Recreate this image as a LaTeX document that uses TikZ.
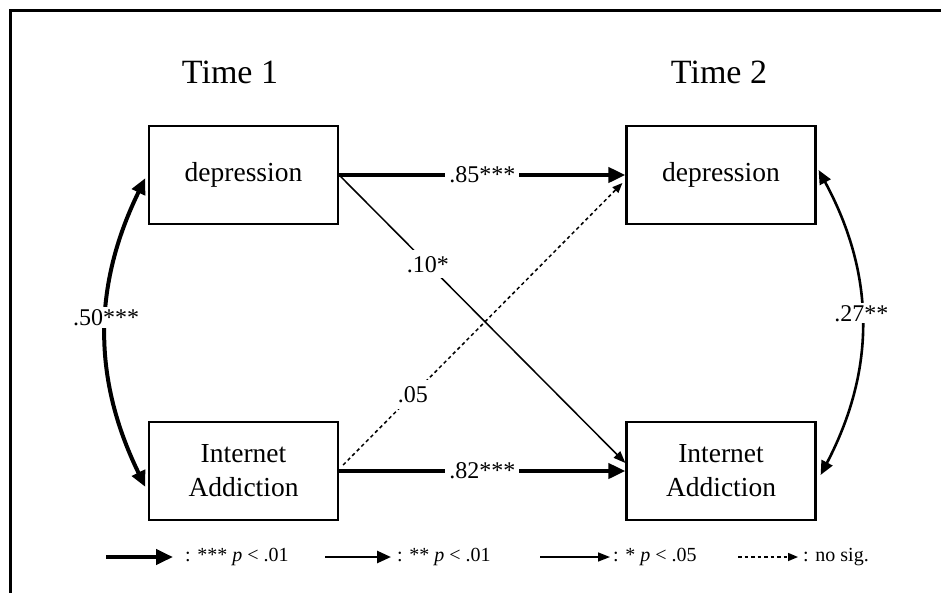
\documentclass[tikz,border=0pt]{standalone}
\usepackage{fontspec}
\setmainfont{Liberation Serif}
\usetikzlibrary{arrows.meta,calc}
\begin{document}
\begin{tikzpicture}[x=1pt,y=-1pt,
  box/.style={draw, line width=2.2pt, minimum width=189pt, minimum height=98pt,
    align=center, inner sep=0pt, font=\fontsize{27.5}{34}\selectfont},
  timelabel/.style={anchor=base, font=\fontsize{34}{40}\selectfont},
  coef/.style={fill=white, inner sep=4pt, font=\fontsize{24}{28}\selectfont},
  legtext/.style={anchor=west, inner sep=0pt, font=\fontsize{20}{24}\selectfont},
  sig3/.style={line width=4pt, -{Triangle[length=17pt,width=15pt]}},
  sig2/.style={line width=2.6pt, -{Triangle[length=14pt,width=12pt]}},
  sig1/.style={line width=1.5pt, -{Triangle[length=12pt,width=9pt]}},
  nosig/.style={line width=1.5pt, dash pattern=on 3.5pt off 3pt, -{Triangle[length=10pt,width=8pt]}},
  cov3/.style={line width=4pt, {Triangle[length=16pt,width=14pt]}-{Triangle[length=16pt,width=14pt]}},
  cov2/.style={line width=2.6pt, {Triangle[length=14pt,width=12pt]}-{Triangle[length=14pt,width=12pt]}}
]
\useasboundingbox (0,0) rectangle (941,592);

% outer frame (left and top edges)
\draw[line width=3pt, line join=miter] (10,600) -- (10,10) -- (950,10);

% column headings
\node[timelabel] (t1) at (230,83) {Time 1};
\node[timelabel] (t2) at (719,83) {Time 2};

% variables
\node[box] (dep1) at (243.5,175) {depression};
\node[box] (ia1)  at (243.5,471) {Internet\\Addiction};
\node[box] (dep2) at (721,175)   {depression};
\node[box] (ia2)  at (721,471)   {Internet\\Addiction};

% stability paths
\draw[sig3] (dep1.east) -- node[coef] {.85***} (dep2.west);
\draw[sig3] (ia1.east)  -- node[coef] {.82***} (ia2.west);

% cross-lagged paths
\coordinate (ia2in)   at ($(ia2.west)+(0,-8)$);
\coordinate (ia1out)  at ($(ia1.east)+(4,-6)$);
\coordinate (dep2in)  at ($(dep2.west)+(-3,8)$);
\draw[sig1] (dep1.east) -- node[coef, pos=0.31, inner sep=6pt] {.10*} (ia2in);
\draw[nosig] (ia1out) -- node[coef, pos=0.25, inner sep=6pt] {.05} (dep2in);

% within-time correlations
\coordinate (c1a) at ($(dep1.west)+(-2.5,3)$);
\coordinate (c1b) at ($(ia1.west)+(-2.5,16)$);
\coordinate (c2a) at ($(dep2.east)+(2,-5)$);
\coordinate (c2b) at ($(ia2.east)+(4,4)$);
\draw[cov3] (c1a) to[bend right=26] node[coef, pos=0.45, inner sep=2pt] (r1) {.50***} (c1b);
\draw[cov2] (c2a) to[bend left=28] node[coef, pos=0.47, inner sep=2pt] (r2) {.27**} (c2b);

% legend
\coordinate (l1a) at (106,557); \coordinate (l1b) at (173,557);
\coordinate (l2a) at (325,557); \coordinate (l2b) at (391,557);
\coordinate (l3a) at (540,557); \coordinate (l3b) at (610,557);
\coordinate (l4a) at (738,557); \coordinate (l4b) at (798,557);
\draw[sig3] (l1a) -- (l1b);
\draw[sig2] (l2a) -- (l2b);
\draw[sig1] (l3a) -- (l3b);
\draw[nosig] (l4a) -- (l4b);
\node[legtext] (k1) at (185,557) {: *** \textit{p} < .01};
\node[legtext] (k2) at (397,557) {: ** \textit{p} < .01};
\node[legtext] (k3) at (613,557) {: * \textit{p} < .05};
\node[legtext] (k4) at (803,557) {: no sig.};
\end{tikzpicture}
\end{document}
